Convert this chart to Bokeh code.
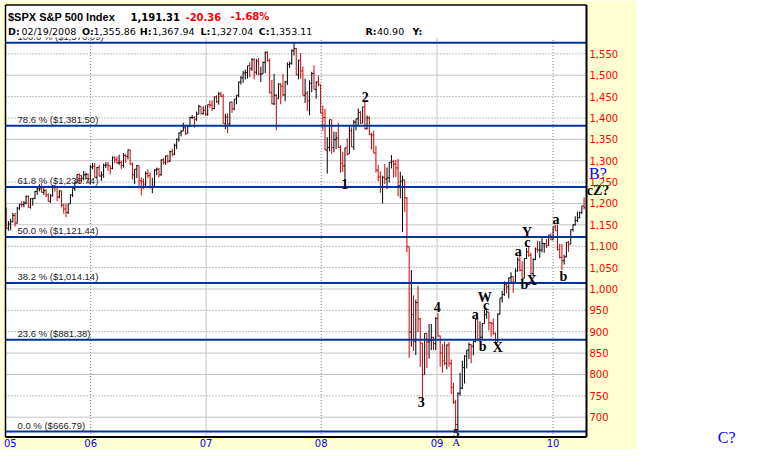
import pandas as pd
from bokeh.plotting import figure
from bokeh.models import (ColumnDataSource, Range1d, LinearAxis, FixedTicker,
                          NumeralTickFormatter)
from bokeh.core.properties import value
from bokeh.embed import file_html
from bokeh.resources import INLINE

# ---------------- data: weekly bars (open, high, low, close) ----------------
first_week = "2005-04-11"   # Monday of first weekly bar

rows_2005 = [
    (1181, 1191, 1141, 1142), (1142, 1159, 1136, 1152), (1152, 1164, 1137, 1157),
    (1157, 1178, 1156, 1172), (1172, 1178, 1146, 1154), (1154, 1192, 1153, 1189),
    (1189, 1199, 1185, 1198), (1198, 1205, 1191, 1197), (1197, 1206, 1191, 1201),
    (1201, 1219, 1198, 1216), (1216, 1219, 1190, 1191), (1191, 1212, 1188, 1211),
    (1211, 1212, 1195, 1212), (1212, 1229, 1210, 1228), (1228, 1236, 1220, 1234),
    (1234, 1245, 1228, 1234), (1234, 1245, 1225, 1226), (1226, 1237, 1220, 1230),
    (1230, 1233, 1215, 1220), (1220, 1224, 1204, 1205), (1205, 1222, 1201, 1218),
    (1218, 1243, 1216, 1241), (1241, 1243, 1228, 1237), (1237, 1237, 1205, 1215),
    (1215, 1231, 1212, 1229), (1229, 1230, 1191, 1196), (1196, 1199, 1176, 1187),
    (1187, 1200, 1168, 1179), (1179, 1199, 1175, 1199), (1199, 1221, 1199, 1220),
    (1220, 1235, 1215, 1235), (1235, 1250, 1229, 1248), (1248, 1268, 1248, 1268),
    (1268, 1270, 1246, 1265), (1265, 1266, 1250, 1259), (1259, 1276, 1254, 1267),
    (1267, 1272, 1256, 1268), (1268, 1270, 1248, 1248),
]
rows_2006 = [
    (1248, 1290, 1245, 1285), (1285, 1295, 1280, 1287), (1287, 1295, 1261, 1261),
    (1261, 1286, 1259, 1284), (1284, 1290, 1263, 1264), (1264, 1275, 1253, 1267),
    (1267, 1293, 1260, 1289), (1289, 1297, 1283, 1290), (1290, 1297, 1276, 1288),
    (1288, 1288, 1268, 1282), (1282, 1310, 1280, 1307), (1307, 1310, 1295, 1302),
    (1302, 1310, 1293, 1295), (1295, 1314, 1290, 1296), (1296, 1300, 1280, 1289),
    (1289, 1318, 1284, 1312), (1312, 1316, 1295, 1310), (1310, 1326, 1303, 1325),
    (1325, 1326, 1290, 1292), (1292, 1296, 1256, 1267), (1267, 1280, 1245, 1280),
    (1280, 1290, 1259, 1288), (1288, 1288, 1235, 1253), (1253, 1261, 1219, 1251),
    (1251, 1258, 1234, 1245), (1245, 1275, 1238, 1270), (1270, 1280, 1259, 1265),
    (1265, 1273, 1235, 1237), (1237, 1260, 1224, 1240), (1240, 1280, 1238, 1278),
    (1278, 1284, 1266, 1280), (1280, 1283, 1261, 1267), (1267, 1303, 1265, 1302),
    (1302, 1306, 1291, 1296), (1296, 1312, 1290, 1311), (1311, 1314, 1294, 1299),
    (1299, 1324, 1297, 1321), (1321, 1328, 1310, 1315), (1315, 1340, 1313, 1336),
    (1336, 1352, 1327, 1350), (1350, 1366, 1344, 1365), (1365, 1372, 1357, 1369),
    (1369, 1389, 1369, 1377), (1377, 1382, 1360, 1364), (1364, 1384, 1364, 1380),
    (1380, 1403, 1379, 1401), (1401, 1407, 1398, 1401), (1401, 1404, 1377, 1397),
    (1397, 1415, 1393, 1409), (1409, 1431, 1409, 1427), (1427, 1427, 1408, 1410),
    (1410, 1427, 1408, 1418),
]
rows_2007 = [
    (1418, 1430, 1405, 1409), (1409, 1431, 1405, 1431), (1431, 1441, 1424, 1430),
    (1430, 1441, 1416, 1422), (1422, 1450, 1420, 1449), (1449, 1453, 1435, 1438),
    (1438, 1461, 1431, 1456), (1456, 1461, 1448, 1451), (1451, 1456, 1387, 1387),
    (1387, 1410, 1374, 1402), (1402, 1411, 1364, 1386), (1386, 1437, 1382, 1437),
    (1437, 1438, 1412, 1421), (1421, 1444, 1418, 1444), (1444, 1453, 1432, 1453),
    (1453, 1485, 1448, 1484), (1484, 1498, 1478, 1494), (1494, 1510, 1482, 1505),
    (1505, 1513, 1490, 1506), (1506, 1522, 1492, 1522), (1522, 1530, 1495, 1515),
    (1515, 1540, 1510, 1536), (1536, 1540, 1490, 1507), (1507, 1538, 1501, 1533),
    (1533, 1540, 1500, 1503), (1503, 1520, 1484, 1503), (1503, 1532, 1503, 1530),
    (1530, 1556, 1505, 1553), (1553, 1556, 1532, 1534), (1534, 1539, 1457, 1459),
    (1459, 1489, 1432, 1433), (1433, 1503, 1430, 1453), (1453, 1456, 1371, 1445),
    (1445, 1481, 1445, 1479), (1479, 1481, 1432, 1474), (1474, 1503, 1451, 1454),
    (1454, 1487, 1439, 1484), (1484, 1530, 1477, 1525), (1525, 1532, 1517, 1527),
    (1527, 1561, 1525, 1557), (1557, 1576, 1546, 1562), (1562, 1564, 1500, 1501),
    (1501, 1536, 1490, 1535), (1535, 1552, 1492, 1510), (1510, 1520, 1453, 1453),
    (1453, 1492, 1435, 1458), (1458, 1463, 1416, 1440), (1440, 1488, 1406, 1481),
    (1481, 1508, 1460, 1504), (1504, 1523, 1467, 1467), (1467, 1485, 1445, 1484),
    (1484, 1499, 1474, 1478),
]
rows_2008 = [
    (1478, 1478, 1411, 1411), (1411, 1429, 1370, 1401), (1401, 1421, 1325, 1325),
    (1325, 1355, 1270, 1331), (1331, 1396, 1322, 1396), (1396, 1396, 1316, 1331),
    (1331, 1368, 1320, 1349), (1349, 1367, 1327, 1353), (1353, 1388, 1330, 1331),
    (1331, 1336, 1272, 1294), (1294, 1321, 1274, 1288), (1288, 1330, 1256, 1330),
    (1330, 1352, 1312, 1316), (1316, 1380, 1316, 1370), (1370, 1378, 1332, 1332),
    (1332, 1395, 1325, 1390), (1390, 1398, 1371, 1398), (1398, 1422, 1380, 1413),
    (1413, 1416, 1386, 1388), (1388, 1426, 1388, 1426), (1426, 1440, 1373, 1375),
    (1375, 1406, 1373, 1400), (1400, 1404, 1360, 1361), (1361, 1365, 1326, 1360),
    (1360, 1370, 1317, 1318), (1318, 1335, 1272, 1278), (1278, 1290, 1252, 1262),
    (1262, 1275, 1225, 1239), (1239, 1265, 1200, 1261), (1261, 1292, 1245, 1257),
    (1257, 1284, 1234, 1260), (1260, 1297, 1249, 1296), (1296, 1313, 1282, 1298),
    (1298, 1302, 1261, 1292), (1292, 1302, 1262, 1283), (1283, 1304, 1217, 1242),
    (1242, 1274, 1212, 1252), (1252, 1265, 1133, 1255), (1255, 1255, 1180, 1213),
    (1213, 1215, 1086, 1099), (1099, 1099, 839, 899), (899, 1044, 865, 940),
    (940, 985, 855, 877), (877, 975, 845, 968), (968, 1007, 899, 930),
    (930, 932, 818, 873), (873, 874, 741, 800), (800, 896, 800, 896),
    (896, 896, 815, 876), (876, 918, 837, 879), (879, 918, 857, 887),
    (887, 888, 857, 872),
]
rows_2009 = [
    (872, 934, 857, 931), (931, 943, 888, 890), (890, 891, 818, 850),
    (850, 871, 804, 832), (832, 877, 821, 826), (826, 870, 812, 869),
    (869, 876, 818, 826), (826, 835, 754, 770), (770, 780, 731, 735),
    (735, 741, 667, 683), (683, 758, 672, 756), (756, 804, 750, 768),
    (768, 832, 766, 816), (816, 845, 779, 843), (843, 857, 814, 857),
    (857, 875, 836, 870), (870, 871, 826, 866), (866, 880, 845, 877),
    (877, 930, 875, 929), (929, 930, 878, 882), (882, 924, 879, 887),
    (887, 920, 881, 919), (919, 951, 919, 940), (940, 956, 930, 946),
    (946, 946, 903, 921), (921, 922, 888, 919), (919, 931, 893, 896),
    (896, 898, 869, 880), (880, 943, 875, 941), (941, 979, 940, 979),
    (979, 996, 968, 987), (987, 1018, 984, 1010), (1010, 1013, 990, 1005),
    (1005, 1027, 978, 1026), (1026, 1039, 1016, 1029), (1029, 1029, 991, 1016),
    (1016, 1048, 1016, 1042), (1042, 1074, 1041, 1068), (1068, 1080, 1041, 1044),
    (1044, 1065, 1020, 1025), (1025, 1071, 1025, 1071), (1071, 1096, 1070, 1087),
    (1087, 1101, 1075, 1079), (1079, 1085, 1033, 1036), (1036, 1072, 1029, 1069),
    (1069, 1097, 1067, 1093), (1093, 1113, 1085, 1091), (1091, 1112, 1073, 1091),
    (1091, 1119, 1086, 1106), (1106, 1107, 1085, 1106), (1106, 1117, 1096, 1102),
    (1102, 1126, 1102, 1126), (1126, 1130, 1115, 1115),
]
rows_2010 = [
    (1115, 1145, 1115, 1145), (1145, 1150, 1136, 1136), (1136, 1150, 1090, 1092),
    (1092, 1105, 1071, 1074), (1074, 1105, 1044, 1066), (1066, 1080, 1057, 1075),
    (1075, 1110, 1074, 1109), (1109, 1112, 1087, 1105), (1105, 1139, 1105, 1139),
    (1139, 1151, 1134, 1150), (1150, 1170, 1148, 1160), (1160, 1181, 1156, 1167),
    (1167, 1181, 1165, 1179), (1179, 1194, 1175, 1194), (1194, 1214, 1186, 1191),
]

year_tick_dates = ["2005-04-24", "2006-01-03", "2007-01-03", "2008-01-02", "2009-01-02", "2010-01-04"]
year_labels = ["05", "06", "07", "08", "09", "10"]
year_grid_style = [None, "dotted", "solid", "dotted", "solid", "dotted"]

price_ticks = [700, 750, 800, 850, 900, 950, 1000, 1050, 1100, 1150,
               1200, 1250, 1300, 1350, 1400, 1450, 1500, 1550]
grid_solid = [700, 800, 850, 1000, 1150, 1200, 1300, 1350, 1500]
grid_dotted = [750, 900, 950, 1050, 1100, 1250, 1400, 1450, 1550]

fib_pct = ["100.0", "78.6", "61.8", "50.0", "38.2", "23.6", "0.0"]
fib_price = [1576.09, 1381.50, 1238.74, 1121.44, 1014.14, 881.38, 666.79]

# Elliott wave annotations (black, bold)
ew_text = ["1", "2", "3", "4", "5", "a", "b", "W", "c", "X", "a", "b", "Y", "c", "X", "a", "b", "cZ?"]
ew_date = ["2008-03-16", "2008-05-20", "2008-11-13", "2009-01-03", "2009-03-04", "2009-05-03",
           "2009-05-26", "2009-06-02", "2009-06-06", "2009-07-13", "2009-09-16", "2009-10-05",
           "2009-10-14", "2009-10-15", "2009-10-29", "2010-01-13", "2010-02-06", "2010-05-26"]
ew_price = [1246, 1448, 735, 957, 664, 941, 866, 981, 961, 864, 1088, 1010, 1132, 1109, 1019,
            1162, 1028, 1230]
ew_size = ["14px"] * 4 + ["13px"] + ["14px"] * 13
# wave degree labels (blue)
deg_text = ["A", "B?", "C?"]
deg_date = ["2009-03-04", "2010-05-26", "2011-07-07"]
deg_price = [641, 1269, 653]
deg_size = ["11px", "16px", "16px"]

# ---------------- layout constants ----------------
FIG_W, FIG_H = 763, 449
X_START = pd.Timestamp("2005-03-24")    # date at the left edge of the canvas
PX_PER_DAY = 0.3163
Y_TOP = 1674.7                          # price at the top edge of the canvas
PRICE_PER_PX = 2.339
YELLOW = "#FFFFD2"
RED = "#CC0000"
FIB_BLUE = "#003399"


def day(d):
    return (pd.Timestamp(d) - X_START).days


def px_x(xp):   # canvas pixel -> data x (annotation placement only)
    return xp / PX_PER_DAY


def px_y(yp):
    return Y_TOP - yp * PRICE_PER_PX


X_MAX, Y_MIN = px_x(FIG_W), px_y(FIG_H)
P_LEFT, P_RIGHT = px_x(5), px_x(586)          # price panel edges
P_TOP, P_BOTTOM = px_y(4.5), px_y(436.5)
HEADER_BOTTOM = px_y(37)
CREAM_RIGHT = px_x(636)

rows = rows_2005 + rows_2006 + rows_2007 + rows_2008 + rows_2009 + rows_2010
opens = [r[0] for r in rows]
highs = [r[1] for r in rows]
lows = [r[2] for r in rows]
closes = [r[3] for r in rows]
dates = pd.date_range(first_week, periods=len(rows), freq="W-MON")
xs = [day(d) for d in dates]
colors = []
for i, c in enumerate(closes):
    prev = closes[i - 1] if i > 0 else opens[0]
    colors.append(RED if c < prev else "black")

src = ColumnDataSource(dict(x=xs, xl=[x - 3.5 for x in xs], xr=[x + 3.5 for x in xs],
                            o=opens, h=highs, l=lows, c=closes, color=colors))

p = figure(width=FIG_W, height=FIG_H, output_backend="svg", toolbar_location=None, tools="",
           x_range=Range1d(0, X_MAX), y_range=Range1d(Y_MIN, Y_TOP),
           x_axis_type=None, y_axis_type=None,
           min_border_left=0, min_border_top=0, min_border_right=0, min_border_bottom=0,
           background_fill_color="white", border_fill_color="white",
           outline_line_color=None)

# cream chart background and white price panel
p.quad(left=0, right=CREAM_RIGHT, bottom=Y_MIN, top=Y_TOP, fill_color=YELLOW, line_color=None)
p.quad(left=P_LEFT, right=P_RIGHT, bottom=P_BOTTOM, top=P_TOP, fill_color="white", line_color=None)

# grid lines
for lvl in grid_solid:
    p.segment(x0=P_LEFT, x1=P_RIGHT, y0=lvl, y1=lvl, line_color="#C4C4C4", line_width=1)
for lvl in grid_dotted:
    p.segment(x0=P_LEFT, x1=P_RIGHT, y0=lvl, y1=lvl, line_color="#808080", line_width=1, line_dash="1 2")
for d, st in zip(year_tick_dates, year_grid_style):
    if st is None:
        continue
    if st == "solid":
        p.segment(x0=day(d), x1=day(d), y0=P_BOTTOM, y1=HEADER_BOTTOM, line_color="#C4C4C4", line_width=1)
    else:
        p.segment(x0=day(d), x1=day(d), y0=P_BOTTOM, y1=HEADER_BOTTOM, line_color="#808080",
                  line_width=1, line_dash="1 2")

# OHLC bars
p.segment(x0="x", y0="l", x1="x", y1="h", line_color="color", line_width=1, source=src)
p.segment(x0="xl", y0="o", x1="x", y1="o", line_color="color", line_width=1, source=src)
p.segment(x0="x", y0="c", x1="xr", y1="c", line_color="color", line_width=1, source=src)

# fib retracement lines and labels
p.segment(x0=[P_LEFT] * len(fib_price), x1=[P_RIGHT] * len(fib_price), y0=fib_price, y1=fib_price,
          line_color=FIB_BLUE, line_width=2)
p.text(x=[px_x(17)] * len(fib_price), y=[v + 1.5 for v in fib_price],
       text=[f"{pc} % (${v:,.2f})" for pc, v in zip(fib_pct, fib_price)],
       text_font=value("Liberation Sans"), text_font_size="9.5px", text_color="#222222",
       text_align="left", text_baseline="bottom")

# header area of the panel
p.quad(left=P_LEFT, right=P_RIGHT, bottom=HEADER_BOTTOM, top=P_TOP, fill_color="white", line_color=None)
p.text(x=[px_x(7.5)], y=[px_y(16)], text=["$SPX S&P 500 Index"], text_font=value("Liberation Sans"),
       text_font_style="bold", text_font_size="11px", text_color="black",
       text_align="left", text_baseline="alphabetic")
hdr1 = [("1,191.31", 130, "black"), ("-20.36", 185, "#FF0000"), ("-1.68%", 230, "#FF0000")]
for t, xp, col in hdr1:
    p.text(x=[px_x(xp)], y=[px_y(16)], text=[t], text_font=value("DejaVu Sans"),
           text_font_style="bold", text_font_size="10px", text_color=col,
           text_align="left", text_baseline="alphabetic")
hdr2 = [("D:", 7.5, True), ("02/19/2008", 21, False), ("O:", 81.5, True), ("1,355.86", 93, False),
        ("H:", 139.3, True), ("1,367.94", 151.7, False), ("L:", 200, True), ("1,327.04", 210.5, False),
        ("C:", 258.3, True), ("1,353.11", 269.5, False), ("R:", 365, True), ("40.90", 376.5, False),
        ("Y:", 412, True)]
for t, xp, bold in hdr2:
    p.text(x=[px_x(xp)], y=[px_y(30.5)], text=[t], text_font=value("DejaVu Sans"),
           text_font_style="bold" if bold else "normal", text_font_size="9.5px",
           text_color="black", text_align="left", text_baseline="alphabetic")

# panel border
p.segment(x0=[P_LEFT, P_LEFT], x1=[P_RIGHT, P_LEFT], y0=[P_TOP, P_BOTTOM], y1=[P_TOP, P_TOP],
          line_color="black", line_width=1.5)
p.segment(x0=[P_RIGHT, P_LEFT], x1=[P_RIGHT, P_RIGHT], y0=[P_BOTTOM, P_BOTTOM], y1=[P_TOP, P_BOTTOM],
          line_color="black", line_width=2)

# wave labels
p.text(x=[day(d) for d in ew_date], y=ew_price, text=ew_text,
       text_font=value("Liberation Serif"), text_font_style="bold", text_font_size=ew_size,
       text_color="black", text_align="center", text_baseline="middle")
for t, d, v, sz in zip(deg_text, deg_date, deg_price, deg_size):
    p.text(x=[day(d)], y=[v], text=[t], text_font=value("Liberation Serif"),
           text_font_size=sz, text_color="#0000FF", text_align="center", text_baseline="middle")

# axes, fixed on the price panel edges
yax = LinearAxis(ticker=FixedTicker(ticks=price_ticks), formatter=NumeralTickFormatter(format="0,0"),
                 fixed_location=P_RIGHT,
                 major_label_text_color="#FF0000", major_label_text_font="DejaVu Sans",
                 major_label_text_font_size="10px", major_tick_line_color=None,
                 minor_tick_line_color=None, major_tick_out=0, major_tick_in=0,
                 axis_line_color=None, major_label_standoff=3)
p.add_layout(yax, "right")
tick_days = [day(d) for d in year_tick_dates]
xax = LinearAxis(ticker=FixedTicker(ticks=tick_days), fixed_location=P_BOTTOM,
                 major_label_overrides={t: lab for t, lab in zip(tick_days, year_labels)},
                 major_label_text_color="#0000FF", major_label_text_font="DejaVu Sans",
                 major_label_text_font_size="10px", major_tick_line_color=None,
                 minor_tick_line_color=None, major_tick_out=0, major_tick_in=0,
                 axis_line_color=None, major_label_standoff=2)
p.add_layout(xax, "below")

open("out.html", "w").write(file_html(p, INLINE))
